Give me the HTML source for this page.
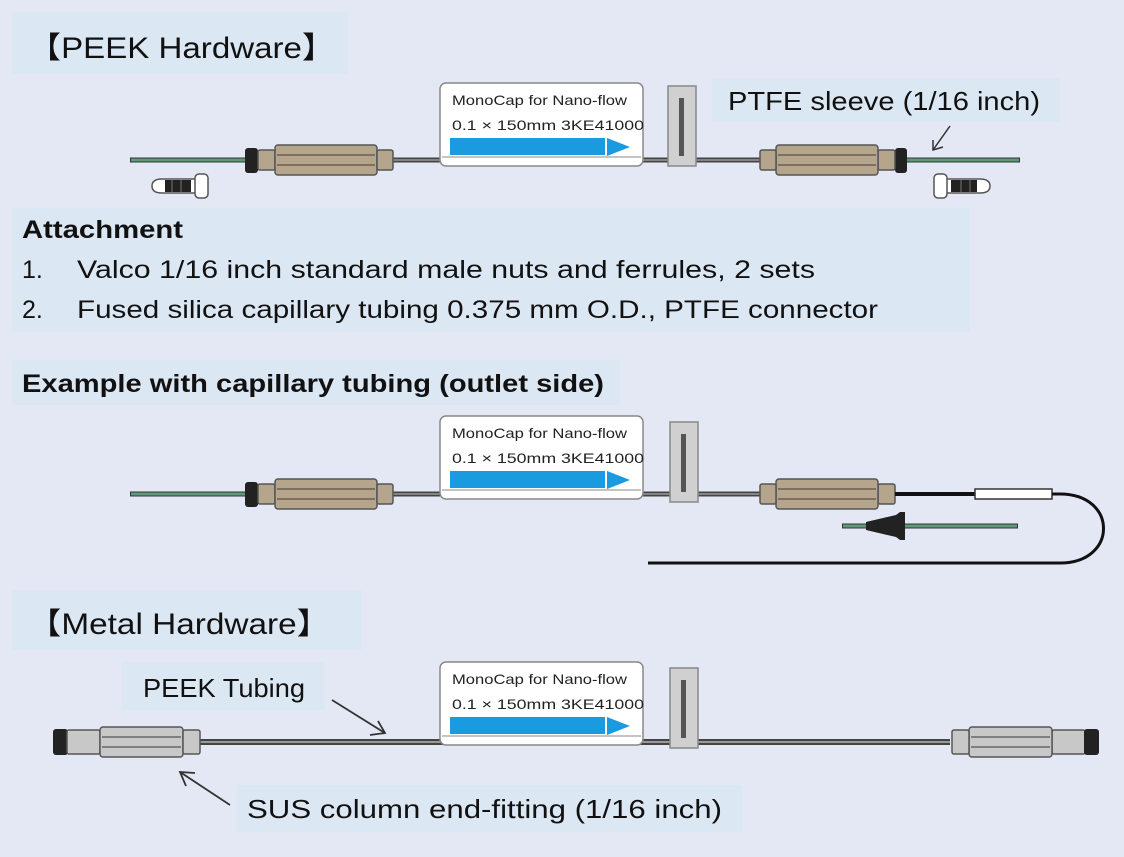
<!DOCTYPE html>
<html><head><meta charset="utf-8"><style>
html,body{margin:0;padding:0;background:#e4e8f4;}
svg{display:block;}
text{font-family:"Liberation Sans","Noto Sans CJK JP",sans-serif;fill:#111;}
.sm{font-family:"Liberation Sans",sans-serif;font-size:14px;fill:#222;}
</style></head><body>
<svg width="1124" height="857" viewBox="0 0 1124 857" xmlns="http://www.w3.org/2000/svg">
<defs>
<g id="fit">
 <rect x="0" y="-10" width="17" height="20" rx="2" fill="#b5a58c" stroke="#555" stroke-width="1.5"/>
 <rect x="17" y="-15" width="102" height="30" rx="3" fill="#b5a58c" stroke="#555" stroke-width="1.5"/>
 <line x1="19" y1="-5" x2="117" y2="-5" stroke="#6b5f4e" stroke-width="1.5"/>
 <line x1="19" y1="5" x2="117" y2="5" stroke="#6b5f4e" stroke-width="1.5"/>
 <rect x="119" y="-10" width="16" height="20" rx="2" fill="#b5a58c" stroke="#555" stroke-width="1.5"/>
</g>
<g id="mfit">
 <rect x="0" y="-12" width="33" height="24" rx="2" fill="#c8c8c8" stroke="#555" stroke-width="1.5"/>
 <rect x="33" y="-15" width="83" height="30" rx="3" fill="#c8c8c8" stroke="#555" stroke-width="1.5"/>
 <line x1="35" y1="-5" x2="114" y2="-5" stroke="#666" stroke-width="1.5"/>
 <line x1="35" y1="5" x2="114" y2="5" stroke="#666" stroke-width="1.5"/>
 <rect x="116" y="-12" width="17" height="24" rx="2" fill="#c8c8c8" stroke="#555" stroke-width="1.5"/>
</g>
<g id="mono">
 <rect x="0" y="0" width="203" height="83" rx="6" fill="#fff" stroke="#888" stroke-width="1.5"/>
 <text x="12" y="22" class="sm" textLength="175" lengthAdjust="spacingAndGlyphs">MonoCap for Nano-flow</text>
 <text x="12" y="47" class="sm" textLength="192" lengthAdjust="spacingAndGlyphs">0.1 × 150mm 3KE41000</text>
 <rect x="10" y="55" width="155" height="17" fill="#1a9be0"/>
 <polygon points="167,55 190,64 167,73" fill="#1a9be0"/>
 <line x1="2" y1="74" x2="201" y2="74" stroke="#888"/>
</g>
<g id="tag">
 <rect x="0" y="0" width="28" height="80" fill="#d0d0d0" stroke="#888" stroke-width="1.5"/>
 <rect x="11" y="12" width="5" height="58" fill="#555"/>
</g>
<g id="fer">
 <path d="M10,-7 L44,-7 L44,7 L10,7 Q0,7 0,0 Q0,-7 10,-7 Z" fill="#fff" stroke="#555" stroke-width="1.5"/>
 <rect x="13" y="-6" width="26" height="12" fill="#222"/>
 <line x1="20" y1="-6" x2="20" y2="6" stroke="#777" stroke-width="1"/>
 <line x1="29" y1="-6" x2="29" y2="6" stroke="#777" stroke-width="1"/>
 <rect x="43" y="-12" width="13" height="24" rx="4" fill="#fff" stroke="#555" stroke-width="1.5"/>
</g>
</defs>

<rect x="12" y="12" width="336" height="62" fill="#dce7f4"/>
<text x="28" y="58" font-size="30" textLength="307" lengthAdjust="spacingAndGlyphs">【PEEK Hardware】</text>

<rect x="712" y="78" width="348" height="44" fill="#dce7f4"/>
<text x="728" y="110" font-size="26" textLength="312" lengthAdjust="spacingAndGlyphs">PTFE sleeve (1/16 inch)</text>
<line x1="950" y1="126" x2="933" y2="150" stroke="#333" stroke-width="1.5"/>
<polyline points="933,140 933,150 943,147" fill="none" stroke="#333" stroke-width="1.5"/>

<line x1="130" y1="160" x2="246" y2="160" stroke="#333" stroke-width="5"/>
<line x1="131" y1="160" x2="245" y2="160" stroke="#5e9a78" stroke-width="3"/>
<line x1="393" y1="160" x2="1020" y2="160" stroke="#444" stroke-width="5"/>
<line x1="393" y1="160" x2="1020" y2="160" stroke="#999" stroke-width="1.5"/>
<line x1="905" y1="160" x2="1020" y2="160" stroke="#333" stroke-width="5"/>
<line x1="906" y1="160" x2="1019" y2="160" stroke="#5e9a78" stroke-width="3"/>
<rect x="245" y="148" width="13" height="25" rx="3" fill="#222"/>
<use href="#fit" x="258" y="160"/>
<rect x="895" y="148" width="12" height="25" rx="3" fill="#222"/>
<g transform="translate(895,160) scale(-1,1)"><use href="#fit"/></g>
<use href="#mono" x="440" y="83"/>
<use href="#tag" x="668" y="86"/>
<use href="#fer" x="152" y="186"/>
<g transform="translate(990,186) scale(-1,1)"><use href="#fer"/></g>

<rect x="12" y="208" width="958" height="124" fill="#dce7f4"/>
<text x="22" y="238" font-size="25" font-weight="bold" textLength="161" lengthAdjust="spacingAndGlyphs">Attachment</text>
<text x="22" y="278" font-size="25">1.</text>
<text x="77" y="278" font-size="25" textLength="738" lengthAdjust="spacingAndGlyphs">Valco 1/16 inch standard male nuts and ferrules, 2 sets</text>
<text x="22" y="318" font-size="25">2.</text>
<text x="77" y="318" font-size="25" textLength="801" lengthAdjust="spacingAndGlyphs">Fused silica capillary tubing 0.375 mm O.D., PTFE connector</text>

<rect x="12" y="360" width="608" height="45" fill="#dce7f4"/>
<text x="22" y="392" font-size="25" font-weight="bold" textLength="582" lengthAdjust="spacingAndGlyphs">Example with capillary tubing (outlet side)</text>

<line x1="130" y1="494" x2="246" y2="494" stroke="#333" stroke-width="5"/>
<line x1="131" y1="494" x2="245" y2="494" stroke="#5e9a78" stroke-width="3"/>
<line x1="393" y1="494" x2="760" y2="494" stroke="#444" stroke-width="5"/>
<line x1="393" y1="494" x2="760" y2="494" stroke="#999" stroke-width="1.5"/>
<rect x="245" y="482" width="13" height="25" rx="3" fill="#222"/>
<use href="#fit" x="258" y="494"/>
<g transform="translate(895,494) scale(-1,1)"><use href="#fit"/></g>
<line x1="895" y1="494" x2="976" y2="494" stroke="#111" stroke-width="4"/>
<rect x="975" y="489" width="77" height="10" fill="#fff" stroke="#333" stroke-width="1.5"/>
<path d="M1052,494 L1060,494 C1118,494 1118,563 1060,563 L648,563" fill="none" stroke="#111" stroke-width="3"/>
<line x1="842" y1="526" x2="1018" y2="526" stroke="#333" stroke-width="5"/>
<line x1="843" y1="526" x2="1017" y2="526" stroke="#5e9a78" stroke-width="3"/>
<polygon points="866,522 896,515 900,512 905,512 905,540 900,540 896,537 866,530" fill="#222"/>
<use href="#mono" x="440" y="416"/>
<use href="#tag" x="670" y="422"/>

<rect x="12" y="590" width="350" height="60" fill="#dce7f4"/>
<text x="28" y="634" font-size="30" textLength="302" lengthAdjust="spacingAndGlyphs">【Metal Hardware】</text>

<rect x="122" y="662" width="203" height="48" fill="#dce7f4"/>
<text x="143" y="697" font-size="26" textLength="162" lengthAdjust="spacingAndGlyphs">PEEK Tubing</text>
<line x1="332" y1="700" x2="385" y2="733" stroke="#333" stroke-width="1.8"/>
<polyline points="370,735 385,733 378,721" fill="none" stroke="#333" stroke-width="1.8"/>

<line x1="200" y1="742" x2="950" y2="742" stroke="#444" stroke-width="6"/>
<line x1="200" y1="742" x2="950" y2="742" stroke="#999" stroke-width="2"/>
<rect x="53" y="729" width="15" height="26" rx="3" fill="#222"/>
<use href="#mfit" x="67" y="742"/>
<g transform="translate(1085,742) scale(-1,1)"><use href="#mfit"/></g>
<rect x="1084" y="729" width="15" height="26" rx="3" fill="#222"/>
<use href="#mono" x="440" y="662"/>
<use href="#tag" x="670" y="668"/>

<rect x="237" y="785" width="505" height="47" fill="#dce7f4"/>
<text x="247" y="818" font-size="26" textLength="475" lengthAdjust="spacingAndGlyphs">SUS column end-fitting (1/16 inch)</text>
<line x1="230" y1="805" x2="180" y2="772" stroke="#333" stroke-width="1.8"/>
<polyline points="195,773 180,772 186,786" fill="none" stroke="#333" stroke-width="1.8"/>
</svg>
</body></html>
